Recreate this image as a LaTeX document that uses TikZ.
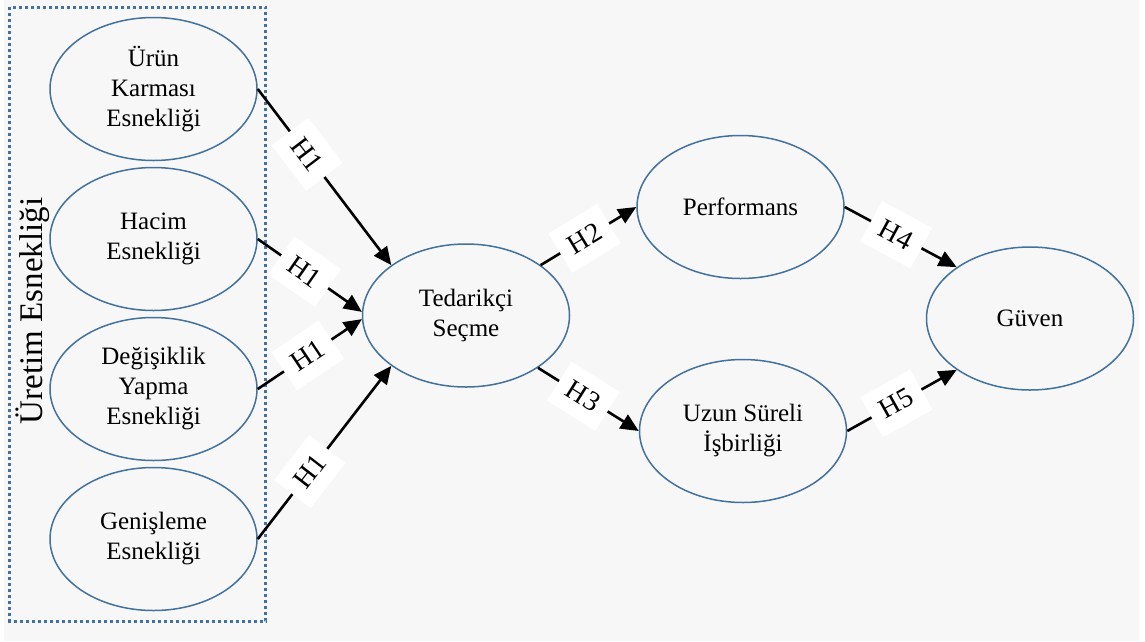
\documentclass[tikz,border=0pt]{standalone}
\usepackage{fontspec}
\setmainfont{Liberation Serif}
\usetikzlibrary{arrows.meta,shapes.geometric}
\definecolor{paper}{HTML}{F7F7F7}
\definecolor{ovalline}{HTML}{41719C}

\begin{document}
\begin{tikzpicture}[x=1pt,y=-1pt,
  construct/.style={ellipse, draw=ovalline, line width=1.5pt, fill=paper,
    minimum width=207pt, minimum height=143pt, inner sep=0pt,
    align=center, font=\fontsize{25}{30}\selectfont},
  conn/.style={draw=black, line width=2.6pt,
    -{Triangle[length=18pt,width=16pt]}},
  hlab/.style={fill=white, sloped, inner sep=0pt,
    minimum width=57pt, minimum height=46pt,
    font=\fontsize{28}{30}\selectfont},
  groupbox/.style={draw=ovalline, line width=3pt, dash pattern=on 3pt off 3pt}
]
  % canvas and page margins
  \useasboundingbox (0,0) rectangle (1145,641);
  \fill[paper] (4,0) rectangle (1139,641);

  % dotted frame around the flexibility dimensions
  \draw[groupbox] (9.5,7) rectangle (265.5,621);
  \node[rotate=90, font=\fontsize{33}{36}\selectfont] (grp) at (33,311) {Üretim Esnekliği};

  % flexibility dimensions
  \node[construct] (e1) at (153.5,89)  {Ürün\\Karması\\Esnekliği};
  \node[construct] (e2) at (153.5,239) {Hacim\\Esnekliği};
  \node[construct] (e3) at (153.5,389) {Değişiklik\\Yapma\\Esnekliği};
  \node[construct] (e4) at (153.5,539) {Genişleme\\Esnekliği};

  % downstream constructs
  \node[construct] (T) at (466,315.5)  {Tedarikçi\\Seçme};
  \node[construct] (P) at (740.5,207)  {Performans};
  \node[construct] (U) at (743,431)    {Uzun Süreli\\İşbirliği};
  \node[construct] (G) at (1030,318.5) {Güven};

  % hypothesised paths
  \draw[conn] (e1.east) -- node[hlab,pos=0.37] {H1} (T.146);
  \draw[conn] (e2.east) -- node[hlab,pos=0.45] {H1} (T.178);
  \draw[conn] (e3.east) -- node[hlab,pos=0.48] {H1} (T.182);
  \draw[conn] (e4.east) -- node[hlab,pos=0.39] {H1} (T.214);

  \draw[conn] (T.34)  -- node[hlab,pos=0.46] {H2} (P.west);
  \draw[conn] (T.-36) -- node[hlab,pos=0.45] {H3} (U.west);
  \draw[conn] (P.east) -- node[hlab,pos=0.46] {H4} (G.145);
  \draw[conn] (U.east) -- node[hlab,pos=0.45] {H5} (G.215);
\end{tikzpicture}
\end{document}
